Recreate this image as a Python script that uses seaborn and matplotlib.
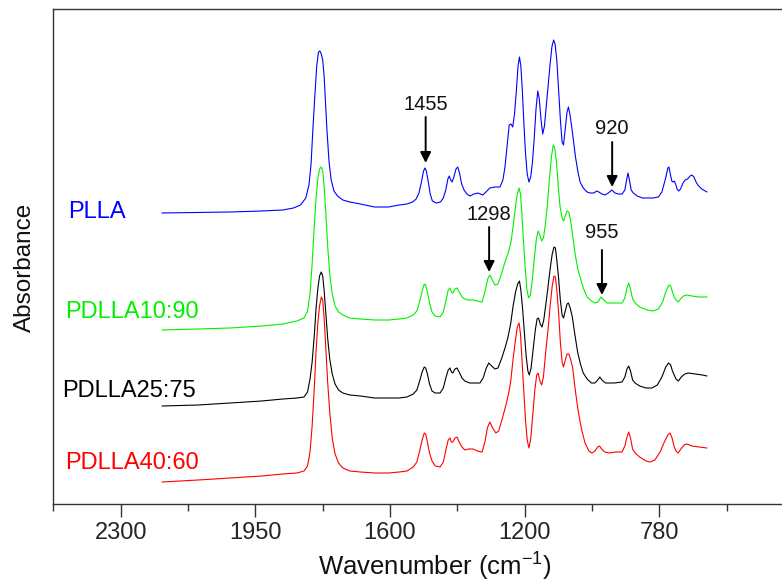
import numpy as np
import pandas as pd
import matplotlib
matplotlib.use("Agg")
import matplotlib.pyplot as plt
import seaborn as sns

# ---------------- data ----------------
plla_w = [2203, 2100, 2010, 1920, 1860, 1830, 1810, 1795, 1786, 1780, 1775, 1769, 1764, 1759, 1755,
          1751, 1747, 1743, 1739, 1735, 1729, 1723, 1715, 1705, 1690, 1670, 1640, 1600, 1560, 1530,
          1508, 1492, 1482, 1474, 1467, 1461, 1457, 1453, 1448, 1442, 1436, 1425, 1413, 1405, 1398,
          1392, 1388, 1384, 1380, 1375, 1369, 1364, 1359, 1353, 1346, 1338, 1329, 1318, 1307, 1300,
          1293, 1284, 1273, 1258, 1244, 1236, 1230, 1224, 1218, 1213, 1208, 1203, 1198, 1193, 1189,
          1185, 1181, 1177, 1172, 1167, 1162, 1157, 1152, 1147, 1142, 1137, 1133, 1128, 1123, 1118,
          1113, 1108, 1102, 1097, 1092, 1088, 1083, 1078, 1073, 1068, 1064, 1059, 1054, 1050, 1046,
          1041, 1036, 1030, 1023, 1017, 1008, 997, 989, 978, 970, 964, 955, 946, 937, 927,
          918, 908, 898, 890, 885, 881, 877, 872, 866, 855, 840, 827, 810, 795, 785,
          775, 768, 765, 761, 757, 754, 750, 746, 742, 737, 732, 725, 719, 712, 705,
          700, 694, 688, 683, 672, 657]
plla_a = [2.91, 2.915, 2.92, 2.93, 2.94, 2.96, 2.99, 3.06, 3.19, 3.40, 3.74, 4.10, 4.38, 4.52, 4.53,
          4.50, 4.44, 4.28, 4.02, 3.74, 3.42, 3.24, 3.13, 3.08, 3.04, 3.02, 3.00, 2.97, 2.97, 2.99,
          3.00, 3.02, 3.05, 3.11, 3.22, 3.33, 3.36, 3.33, 3.23, 3.10, 3.03, 3.01, 3.02, 3.06, 3.14,
          3.25, 3.28, 3.24, 3.22, 3.27, 3.35, 3.37, 3.31, 3.20, 3.14, 3.10, 3.08, 3.10, 3.11, 3.10,
          3.09, 3.12, 3.16, 3.17, 3.17, 3.24, 3.37, 3.58, 3.79, 3.80, 3.77, 3.90, 4.12, 4.38, 4.47,
          4.38, 4.15, 3.85, 3.52, 3.30, 3.22, 3.27, 3.42, 3.66, 3.95, 4.13, 4.06, 3.85, 3.70, 3.78,
          3.98, 4.17, 4.40, 4.57, 4.64, 4.60, 4.44, 4.15, 3.85, 3.62, 3.59, 3.75, 3.92, 3.97, 3.90,
          3.78, 3.64, 3.47, 3.32, 3.22, 3.16, 3.12, 3.11, 3.11, 3.13, 3.12, 3.10, 3.09, 3.11, 3.14,
          3.11, 3.10, 3.10, 3.14, 3.24, 3.31, 3.24, 3.14, 3.11, 3.08, 3.06, 3.06, 3.06, 3.07, 3.12,
          3.25, 3.36, 3.37, 3.30, 3.23, 3.22, 3.23, 3.20, 3.15, 3.13, 3.15, 3.21, 3.24, 3.25, 3.28,
          3.29, 3.27, 3.22, 3.19, 3.15, 3.12]

p1090_w = [2203, 2100, 2010, 1920, 1860, 1820, 1800, 1790, 1783, 1777, 1771, 1766, 1761, 1756, 1751,
           1747, 1743, 1738, 1733, 1727, 1720, 1712, 1702, 1690, 1670, 1640, 1600, 1560, 1530, 1508,
           1490, 1480, 1472, 1465, 1459, 1455, 1450, 1444, 1437, 1428, 1414, 1405, 1397, 1391, 1386,
           1382, 1378, 1372, 1366, 1360, 1352, 1344, 1335, 1321, 1308, 1295, 1287, 1279, 1273, 1266,
           1258, 1250, 1240, 1230, 1220, 1213, 1206, 1200, 1195, 1190, 1186, 1182, 1178, 1173, 1168,
           1163, 1158, 1153, 1147, 1141, 1136, 1131, 1126, 1121, 1116, 1110, 1104, 1098, 1093, 1089,
           1084, 1079, 1074, 1068, 1064, 1059, 1054, 1049, 1044, 1038, 1031, 1024, 1017, 1008, 997,
           985, 975, 966, 958, 952, 941, 920, 898, 890, 884, 879, 874, 868, 861, 848,
           827, 810, 795, 783, 773, 765, 760, 755, 750, 745, 739, 732, 724, 714, 700,
           680, 657]
p1090_a = [1.74, 1.75, 1.76, 1.78, 1.80, 1.83, 1.86, 1.93, 2.10, 2.40, 2.78, 3.05, 3.25, 3.35, 3.37,
           3.33, 3.18, 2.90, 2.58, 2.30, 2.10, 1.98, 1.92, 1.89, 1.86, 1.85, 1.84, 1.84, 1.85, 1.86,
           1.89, 1.93, 2.02, 2.13, 2.20, 2.19, 2.12, 2.01, 1.92, 1.88, 1.87, 1.92, 2.04, 2.14, 2.16,
           2.12, 2.11, 2.15, 2.16, 2.12, 2.07, 2.05, 2.04, 2.04, 2.03, 2.02, 2.12, 2.25, 2.29, 2.24,
           2.19, 2.20, 2.30, 2.42, 2.52, 2.62, 2.80, 2.98, 3.10, 3.16, 3.10, 2.90, 2.65, 2.38, 2.15,
           2.06, 2.09, 2.22, 2.45, 2.65, 2.73, 2.69, 2.63, 2.66, 2.78, 2.98, 3.25, 3.48, 3.59, 3.56,
           3.42, 3.18, 2.98, 2.86, 2.83, 2.88, 2.93, 2.92, 2.84, 2.68, 2.50, 2.36, 2.27, 2.16, 2.07,
           2.03, 2.01, 2.02, 2.07, 2.05, 2.01, 2.01, 2.01, 2.06, 2.16, 2.21, 2.15, 2.05, 2.01, 1.97,
           1.94, 1.93, 1.95, 2.02, 2.13, 2.19, 2.18, 2.12, 2.07, 2.04, 2.02, 2.05, 2.08, 2.09, 2.08,
           2.07, 2.07]

p2575_w = [2203, 2100, 2010, 1920, 1860, 1820, 1800, 1790, 1783, 1777, 1771, 1766, 1761, 1756, 1751,
           1747, 1743, 1738, 1733, 1727, 1720, 1712, 1702, 1690, 1670, 1640, 1600, 1560, 1530, 1508,
           1490, 1480, 1472, 1465, 1459, 1455, 1450, 1444, 1437, 1428, 1414, 1405, 1397, 1391, 1386,
           1382, 1378, 1372, 1366, 1360, 1352, 1344, 1330, 1315, 1301, 1292, 1283, 1276, 1268, 1258,
           1250, 1240, 1230, 1222, 1214, 1207, 1200, 1194, 1189, 1185, 1180, 1175, 1170, 1165, 1161,
           1156, 1150, 1144, 1139, 1135, 1130, 1125, 1120, 1114, 1108, 1102, 1096, 1091, 1087, 1083,
           1078, 1073, 1068, 1064, 1059, 1054, 1050, 1045, 1039, 1032, 1024, 1016, 1008, 997, 985,
           975, 967, 961, 955, 945, 920, 898, 890, 884, 879, 874, 868, 861, 848, 830,
           813, 798, 785, 774, 766, 760, 755, 750, 745, 738, 730, 720, 710, 690, 670,
           657]
p2575_a = [0.98, 0.99, 1.01, 1.03, 1.05, 1.06, 1.07, 1.12, 1.25, 1.42, 1.68, 1.95, 2.15, 2.28, 2.32,
           2.28, 2.14, 1.90, 1.66, 1.45, 1.30, 1.20, 1.14, 1.11, 1.09, 1.08, 1.06, 1.06, 1.06, 1.07,
           1.10, 1.14, 1.23, 1.32, 1.37, 1.36, 1.30, 1.20, 1.13, 1.11, 1.11, 1.16, 1.27, 1.34, 1.36,
           1.32, 1.31, 1.35, 1.36, 1.32, 1.26, 1.23, 1.21, 1.21, 1.21, 1.26, 1.36, 1.41, 1.38, 1.35,
           1.36, 1.45, 1.56, 1.66, 1.80, 1.98, 2.12, 2.20, 2.23, 2.14, 1.95, 1.72, 1.48, 1.33, 1.29,
           1.36, 1.55, 1.74, 1.85, 1.86, 1.80, 1.77, 1.84, 2.00, 2.17, 2.35, 2.50, 2.57, 2.56, 2.44,
           2.26, 2.04, 1.89, 1.86, 1.93, 2.00, 2.01, 1.96, 1.87, 1.70, 1.52, 1.40, 1.31, 1.25, 1.21,
           1.21, 1.24, 1.27, 1.24, 1.21, 1.21, 1.22, 1.27, 1.35, 1.38, 1.33, 1.24, 1.21, 1.18, 1.16,
           1.16, 1.19, 1.27, 1.37, 1.41, 1.39, 1.33, 1.29, 1.25, 1.23, 1.27, 1.30, 1.31, 1.30, 1.29,
           1.28]

p4060_w = [2203, 2100, 2010, 1920, 1860, 1820, 1800, 1790, 1783, 1777, 1771, 1766, 1761, 1756, 1751,
           1747, 1743, 1738, 1733, 1727, 1720, 1712, 1702, 1690, 1670, 1640, 1600, 1560, 1530, 1508,
           1490, 1480, 1472, 1465, 1459, 1455, 1450, 1444, 1437, 1428, 1414, 1405, 1397, 1391, 1386,
           1382, 1378, 1372, 1366, 1360, 1352, 1344, 1333, 1321, 1308, 1295, 1287, 1280, 1273, 1265,
           1256, 1248, 1238, 1228, 1220, 1214, 1207, 1200, 1195, 1190, 1186, 1182, 1177, 1172, 1167,
           1162, 1157, 1151, 1145, 1140, 1136, 1131, 1126, 1121, 1115, 1108, 1102, 1096, 1091, 1087,
           1083, 1078, 1073, 1068, 1064, 1059, 1054, 1049, 1044, 1038, 1031, 1022, 1013, 1003, 992,
           983, 975, 967, 962, 956, 947, 935, 915, 898, 890, 884, 879, 874, 868, 861,
           848, 830, 819, 805, 790, 778, 768, 762, 756, 750, 745, 739, 731, 722, 714,
           700, 680, 657]
p4060_a = [0.22, 0.24, 0.26, 0.28, 0.30, 0.31, 0.33, 0.38, 0.52, 0.78, 1.15, 1.52, 1.80, 1.98, 2.07,
           2.04, 1.86, 1.55, 1.22, 0.92, 0.66, 0.50, 0.41, 0.36, 0.33, 0.32, 0.31, 0.31, 0.32, 0.33,
           0.37, 0.42, 0.53, 0.64, 0.71, 0.70, 0.62, 0.51, 0.43, 0.38, 0.37, 0.42, 0.55, 0.64, 0.66,
           0.62, 0.62, 0.66, 0.67, 0.62, 0.57, 0.54, 0.55, 0.55, 0.53, 0.52, 0.62, 0.76, 0.82, 0.76,
           0.71, 0.73, 0.85, 0.98, 1.10, 1.22, 1.45, 1.65, 1.77, 1.81, 1.70, 1.45, 1.15, 0.85, 0.64,
           0.56, 0.65, 0.90, 1.15, 1.29, 1.31, 1.23, 1.19, 1.27, 1.50, 1.74, 1.98, 2.18, 2.28, 2.27,
           2.14, 1.92, 1.62, 1.42, 1.37, 1.44, 1.50, 1.50, 1.45, 1.36, 1.15, 0.92, 0.75, 0.61, 0.53,
           0.51, 0.53, 0.57, 0.58, 0.55, 0.52, 0.51, 0.52, 0.52, 0.58, 0.67, 0.72, 0.66, 0.55, 0.51,
           0.47, 0.43, 0.42, 0.44, 0.52, 0.62, 0.69, 0.71, 0.66, 0.57, 0.53, 0.51, 0.55, 0.59, 0.60,
           0.58, 0.57, 0.56]

series_names = ["PLLA", "PDLLA10:90", "PDLLA25:75", "PDLLA40:60"]
series_colors = ["#0000ff", "#00f000", "#000000", "#ff0000"]

tick_positions = [2320, 1938, 1556, 1174, 792]
tick_labels = ["2300", "1950", "1600", "1200", "780"]
minor_positions = [2511, 2129, 1747, 1365, 983, 601]

ann_labels = ["1455", "920", "1298", "955"]
ann_w = [1455, 926, 1275, 955]
ann_text_a = [4.00, 3.76, 2.89, 2.71]
ann_tail_a = [3.87, 3.62, 2.77, 2.54]
ann_tip_a = [3.41, 3.17, 2.32, 2.09]

label_w = [2470, 2478, 2487, 2478]
label_a = [2.92, 1.92, 1.13, 0.41]

# ---------------- figure ----------------
frames = []
for name, w, a in zip(series_names,
                      [plla_w, p1090_w, p2575_w, p4060_w],
                      [plla_a, p1090_a, p2575_a, p4060_a]):
    frames.append(pd.DataFrame({"Wavenumber": w, "Absorbance": a, "Sample": name}))
df = pd.concat(frames, ignore_index=True)

sns.set_theme(style="white")
plt.rcParams["font.family"] = ["Liberation Sans", "DejaVu Sans"]
plt.rcParams["mathtext.fontset"] = "custom"
plt.rcParams["mathtext.rm"] = "Liberation Sans"
plt.rcParams["mathtext.it"] = "Liberation Sans"

fig = plt.figure(figsize=(7.82, 5.86), dpi=100)
ax = fig.add_axes([53 / 782, (586 - 504) / 586, 764 / 782, (504 - 9) / 586])

sns.lineplot(data=df, x="Wavenumber", y="Absorbance", hue="Sample",
             palette=dict(zip(series_names, series_colors)), hue_order=series_names,
             estimator=None, sort=False, legend=False, linewidth=0.8, ax=ax)

ax.set_xlim(2512, 345)
ax.set_ylim(0, 4.95)
ax.set_yticks([])
ax.set_xticks(tick_positions)
ax.set_xticklabels(tick_labels)
ax.set_xticks(minor_positions, minor=True)
ax.tick_params(axis="x", which="major", direction="out", length=9, width=1.0,
               color="#333333", labelsize=17, pad=4, bottom=True)
ax.tick_params(axis="x", which="minor", direction="out", length=5, width=1.0,
               color="#333333", bottom=True)
ax.set_xlabel("")
ax.set_ylabel("")
for s in ["left", "bottom", "top"]:
    ax.spines[s].set_visible(True)
    ax.spines[s].set_color("#333333")
    ax.spines[s].set_linewidth(1.0)
ax.spines["right"].set_visible(False)

fig.text(435 / 782, 1 - 576 / 586, "Wavenumber (cm$^{-1}$)", ha="center", va="baseline",
         fontsize=18.5, color="#111111")
fig.text(25 / 782, 1 - 267 / 586, "Absorbance", ha="center", va="center",
         rotation=90, fontsize=17.5, color="#111111")

for name, col, w, a in zip(series_names, series_colors, label_w, label_a):
    ax.text(w, a, name, color=col, fontsize=17, ha="left", va="center")

for lab, w, ta, tl, tp in zip(ann_labels, ann_w, ann_text_a, ann_tail_a, ann_tip_a):
    ax.text(w, ta, lab, ha="center", va="center", fontsize=14.5, color="#111111")
    ax.annotate("", xy=(w, tp), xytext=(w, tl),
                arrowprops=dict(arrowstyle="-|>", color="black", lw=1.4,
                                mutation_scale=16, shrinkA=0, shrinkB=0))

fig.savefig("out.png", dpi=100)
